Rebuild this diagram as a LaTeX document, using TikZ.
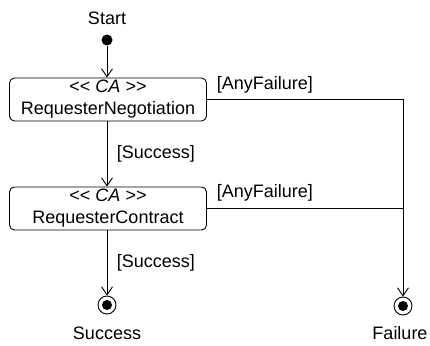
\documentclass[tikz,border=0pt]{standalone}
\usepackage{fontspec}
\setmainfont{Liberation Sans}
\usetikzlibrary{arrows.meta}

\tikzset{
  act/.style = {draw, rounded corners=5pt, minimum width=197pt, minimum height=43pt, align=center, inner sep=2pt},
  initial/.style = {circle, fill=black, inner sep=0pt, minimum size=11pt},
  final/.style = {circle, draw, inner sep=0pt, minimum size=18pt,
    path picture={\fill (path picture bounding box.center) circle(5pt);}},
  flow/.style = {-{Straight Barb[length=8pt,width=11pt]}}
}

\begin{document}
\begin{tikzpicture}[x=1pt, y=-1pt, line width=0.9pt, font=\fontsize{18}{22}\selectfont]
        \useasboundingbox (0,0) rectangle (430,345);

        \node (startlbl) at (107,18) {Start};
        \node[initial] (start) at (107,40) {};

        \node[act] (neg) at (108,99.5) {<{}< \textit{CA} >{}>\\RequesterNegotiation};
        \node[act] (con) at (108,208.5) {<{}< \textit{CA} >{}>\\RequesterContract};

        \node[final] (succ) at (107,305) {};
        \node[final] (fail) at (403,306) {};
        \node (succlbl) at (107,333) {Success};
        \node (faillbl) at (400,333) {Failure};

        \coordinate (join) at (fail |- con.east);

        \draw[flow] (start) -- (start |- neg.north);
        \draw[flow] (start |- neg.south) -- (start |- con.north)
            node[midway, right=6pt] {[Success]};
        \draw[flow] (start |- con.south) -- (succ)
            node[midway, right=6pt] {[Success]};

        \draw[flow] (neg.east) -| (fail);
        \draw (con.east) -- (join);

        \node[anchor=west] (anyfail1) at (213,85) {[AnyFailure]};
        \node[anchor=west] (anyfail2) at (213,193) {[AnyFailure]};
    \end{tikzpicture}
\end{document}
